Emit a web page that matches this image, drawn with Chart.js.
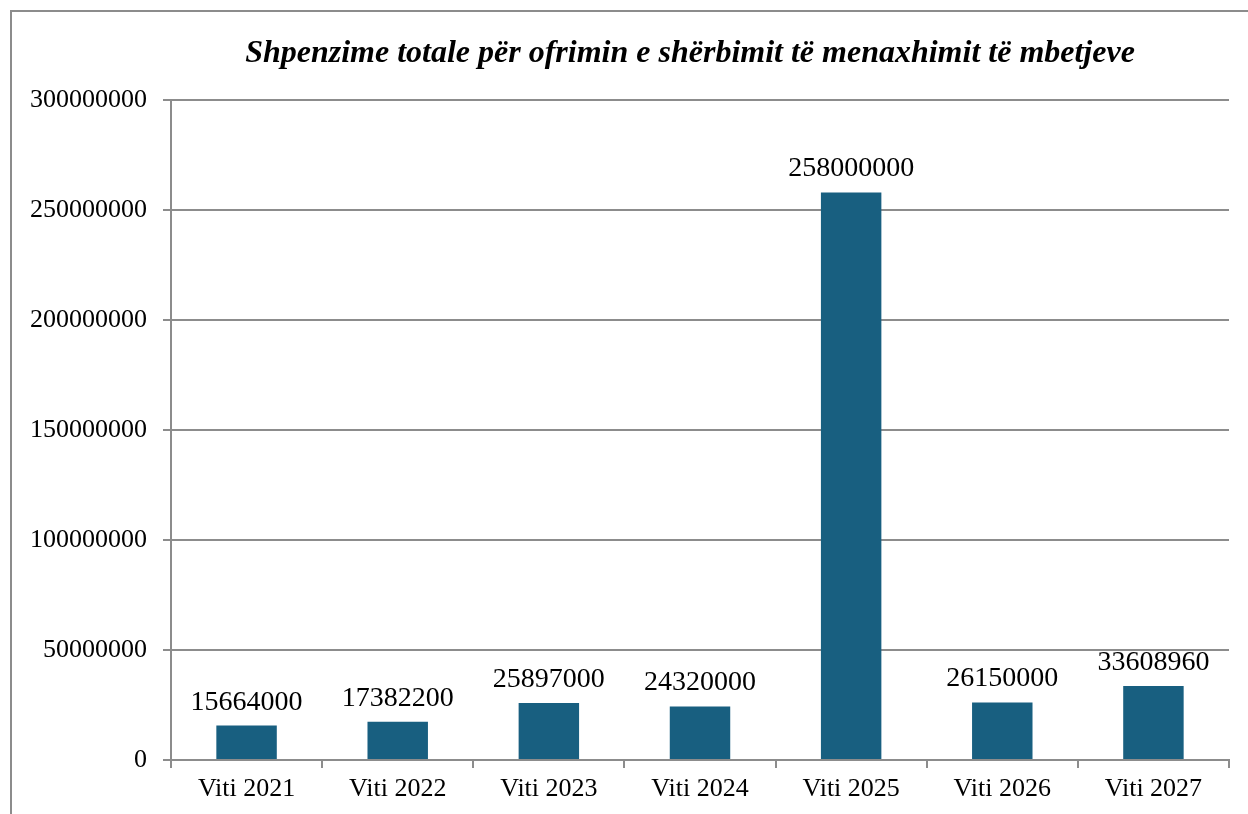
<!DOCTYPE html>
<html>
<head>
<meta charset="utf-8">
<script src="https://cdn.jsdelivr.net/npm/chart.js@4"></script>
<style>
	html, body { margin: 0; padding: 0; background: #fff; }
	#wrap { position: relative; width: 1248px; height: 814px; overflow: hidden; }
	#frame {
		position: absolute; left: 10px; top: 10px; width: 1300px; height: 900px;
		border-left: 2px solid #8c8c8c; border-top: 2px solid #8c8c8c;
	}
	#barChart { position: absolute; left: 0; top: 0; }
</style>
</head>
<body>
<div id="wrap">
	<div id="frame"></div>
	<canvas id="barChart" width="1248" height="814"></canvas>
</div>
<script>
const chartTitle = "Shpenzime totale për ofrimin e shërbimit të menaxhimit të mbetjeve";
const years = ["Viti 2021", "Viti 2022", "Viti 2023", "Viti 2024", "Viti 2025", "Viti 2026", "Viti 2027"];
const expenses = [15664000, 17382200, 25897000, 24320000, 258000000, 26150000, 33608960];
const yTicks = [0, 50000000, 100000000, 150000000, 200000000, 250000000, 300000000];

const serif = "'Liberation Serif', 'Times New Roman', serif";
const gridGray = "#8c8c8c";

// value labels above each bar + title drawn over the plot centre
const labelsAndTitle = {
	id: "labelsAndTitle",
	afterDatasetsDraw(chart) {
		const ctx = chart.ctx;
		const meta = chart.getDatasetMeta(0);
		ctx.save();
		ctx.fillStyle = "#000";
		ctx.textAlign = "center";
		ctx.textBaseline = "alphabetic";
		ctx.font = "28px " + serif;
		meta.data.forEach((bar, i) => {
			ctx.fillText(String(expenses[i]), bar.x, bar.y - 16);
		});
		ctx.font = "italic bold 32px " + serif;
		ctx.textBaseline = "middle";
		const area = chart.chartArea;
		ctx.fillText(chartTitle, (area.left + area.right) / 2 - 10, 54);
		ctx.restore();
	},
};

new Chart("barChart", {
	type: "bar",
	data: {
		labels: years,
		datasets: [
			{
				data: expenses,
				backgroundColor: "#185f80",
				categoryPercentage: 0.4,
				barPercentage: 1.0,
			},
		],
	},
	options: {
		responsive: false,
		animation: false,
		layout: {
			padding: { top: 100, right: 19, left: 0, bottom: 0 },
		},
		plugins: {
			legend: { display: false },
			tooltip: { enabled: false },
			title: { display: false },
		},
		scales: {
			x: {
				offset: true,
				afterFit: (scale) => {
					scale.height = 54;
				},
				grid: {
					display: true,
					drawOnChartArea: false,
					drawTicks: true,
					tickLength: 8,
					offset: true,
					color: gridGray,
					lineWidth: 2,
				},
				border: { color: gridGray, width: 2 },
				ticks: {
					color: "#000",
					padding: 6,
					font: { family: serif, size: 26 },
				},
			},
			y: {
				min: 0,
				max: 300000000,
				afterFit: (scale) => {
					scale.width = 171;
				},
				afterBuildTicks: (scale) => {
					scale.ticks = yTicks.map((v) => ({ value: v }));
				},
				grid: {
					color: gridGray,
					lineWidth: 2,
					tickLength: 8,
				},
				border: { color: gridGray, width: 2 },
				ticks: {
					color: "#000",
					padding: 16,
					font: { family: serif, size: 26 },
					callback: (v) => String(v),
				},
			},
		},
	},
	plugins: [labelsAndTitle],
});
</script>
</body>
</html>
